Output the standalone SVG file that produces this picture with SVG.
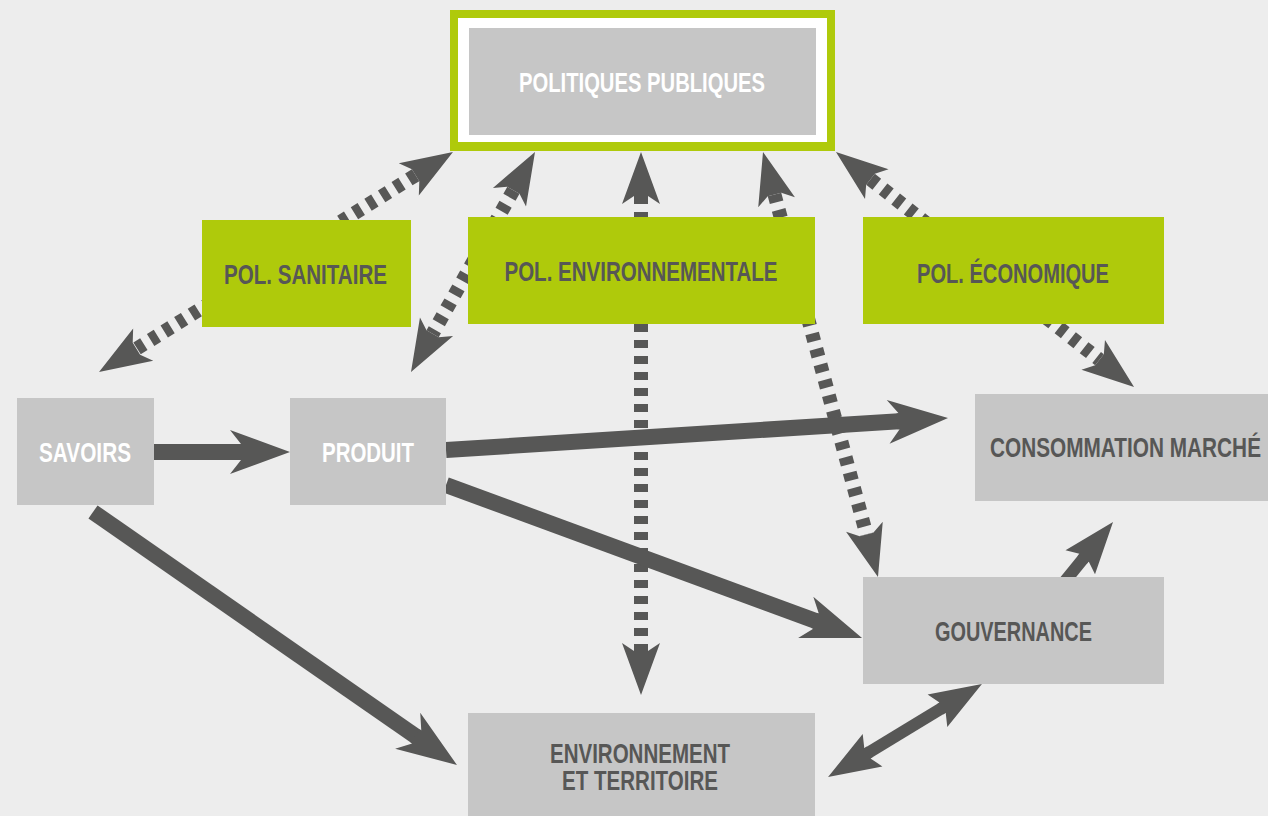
<svg xmlns="http://www.w3.org/2000/svg" width="1268" height="816" viewBox="0 0 1268 816">
<style>
.bg{fill:#ededed}
.box{fill:#c6c6c6}
.grn{fill:#afca0b}
.t{font-family:"Liberation Sans Narrow","Liberation Sans","DejaVu Sans Condensed",Arial,sans-serif;font-weight:bold;font-size:28px;text-anchor:middle}
.tw{fill:#ffffff}
.td{fill:#575756}
.thick{stroke:#575756;stroke-width:16;fill:none;stroke-linecap:butt}
.thin{stroke:#575756;stroke-width:12;fill:none;stroke-linecap:butt}
.dash{stroke:#575756;stroke-width:14;fill:none;stroke-dasharray:8 8}
</style>
<defs>
<marker id="ahT" markerUnits="userSpaceOnUse" orient="auto" refX="0" refY="0" markerWidth="10" markerHeight="10" overflow="visible">
<path d="M45,0 L-15,-22 L-4,-8 L-6,-8 L-6,8 L-4,8 L-15,22 Z" fill="#575756"/>
</marker>
<marker id="ahD" markerUnits="userSpaceOnUse" orient="auto-start-reverse" refX="0" refY="0" markerWidth="10" markerHeight="10" overflow="visible">
<path d="M44,0 L-8,-19 L0,-7 L0,7 L-8,19 Z" fill="#575756"/>
</marker>
<marker id="ahS" markerUnits="userSpaceOnUse" orient="auto-start-reverse" refX="0" refY="0" markerWidth="10" markerHeight="10" overflow="visible">
<path d="M44,0 L-8,-19 L-2,-6 L-5,-6 L-5,6 L-2,6 L-8,19 Z" fill="#575756"/>
</marker>
</defs>
<rect class="bg" x="0" y="0" width="1268" height="816"/>
<g id="connectors">
<line class="dash" x1="415.6" y1="175.2" x2="136.4" y2="348.8" marker-start="url(#ahD)" marker-end="url(#ahD)"/>
<line class="dash" x1="513.4" y1="190.3" x2="432.6" y2="333.7" marker-start="url(#ahD)" marker-end="url(#ahD)"/>
<line class="dash" x1="641" y1="196" x2="641" y2="651" marker-start="url(#ahD)" marker-end="url(#ahD)"/>
<line class="dash" x1="774.5" y1="194.5" x2="866.5" y2="534.5" marker-start="url(#ahD)" marker-end="url(#ahD)"/>
<line class="dash" x1="870.5" y1="179.2" x2="1099.5" y2="359.8" marker-start="url(#ahD)" marker-end="url(#ahD)"/>
<line class="thick" x1="154" y1="452" x2="245" y2="452" marker-end="url(#ahT)"/>
<line class="thick" x1="446" y1="450" x2="903.1" y2="420.9" marker-end="url(#ahT)"/>
<line class="thick" x1="446" y1="485" x2="819.8" y2="622.5" marker-end="url(#ahT)"/>
<line class="thick" x1="93" y1="512" x2="420" y2="739.3" marker-end="url(#ahT)"/>
<line class="thin" x1="1037.4" y1="615.1" x2="1085.3" y2="556.1" marker-end="url(#ahS)"/>
<line class="thin" x1="944.3" y1="706.7" x2="865.7" y2="754.3" marker-start="url(#ahS)" marker-end="url(#ahS)"/>
</g>
<g id="politiques-publiques">
<rect class="grn" x="450" y="10" width="385" height="141"/>
<rect fill="#ffffff" x="458" y="18" width="369" height="124"/>
<rect class="box" x="469" y="28" width="347" height="107"/>
<text class="t tw" x="642" y="92" textLength="246" lengthAdjust="spacingAndGlyphs">POLITIQUES PUBLIQUES</text>
</g>
<g id="pol-sanitaire">
<rect class="grn" x="202" y="220" width="209" height="107"/>
<text class="t td" x="305.5" y="284" textLength="163" lengthAdjust="spacingAndGlyphs">POL. SANITAIRE</text>
</g>
<g id="pol-environnementale">
<rect class="grn" x="468" y="217" width="347" height="107"/>
<text class="t td" x="641" y="281" textLength="273" lengthAdjust="spacingAndGlyphs">POL. ENVIRONNEMENTALE</text>
</g>
<g id="pol-economique">
<rect class="grn" x="863" y="217" width="301" height="107"/>
<text class="t td" x="1013" y="283" textLength="192" lengthAdjust="spacingAndGlyphs">POL. ÉCONOMIQUE</text>
</g>
<g id="savoirs">
<rect class="box" x="17" y="398" width="137" height="107"/>
<text class="t tw" x="85" y="462" textLength="92" lengthAdjust="spacingAndGlyphs">SAVOIRS</text>
</g>
<g id="produit">
<rect class="box" x="290" y="398" width="156" height="107"/>
<text class="t tw" x="368" y="462" textLength="92" lengthAdjust="spacingAndGlyphs">PRODUIT</text>
</g>
<g id="consommation-marche">
<rect class="box" x="975" y="394" width="300" height="107"/>
<text class="t td" x="1125.5" y="457" textLength="271" lengthAdjust="spacingAndGlyphs">CONSOMMATION MARCHÉ</text>
</g>
<g id="gouvernance">
<rect class="box" x="863" y="577" width="301" height="107"/>
<text class="t td" x="1013.5" y="641" textLength="157" lengthAdjust="spacingAndGlyphs">GOUVERNANCE</text>
</g>
<g id="environnement-territoire">
<rect class="box" x="468" y="713" width="347" height="110"/>
<text class="t td" x="640" y="763" textLength="180" lengthAdjust="spacingAndGlyphs">ENVIRONNEMENT</text>
<text class="t td" x="640" y="790" textLength="156" lengthAdjust="spacingAndGlyphs">ET TERRITOIRE</text>
</g>
</svg>
